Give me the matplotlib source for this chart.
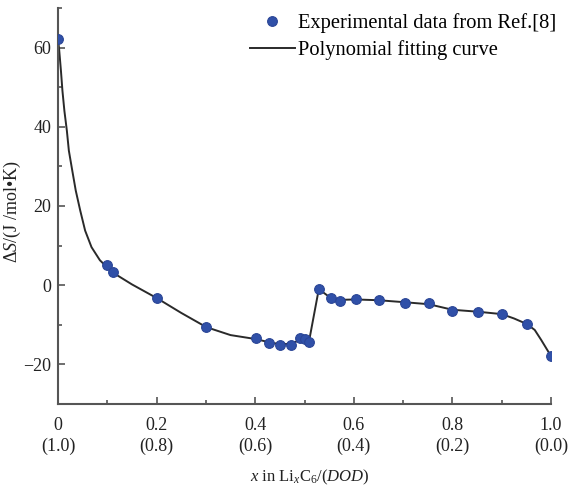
import matplotlib
matplotlib.use("Agg")
import matplotlib.pyplot as plt
from matplotlib.ticker import MultipleLocator

plt.rcParams['font.family'] = ['Liberation Serif', 'DejaVu Serif']
plt.rcParams['mathtext.fontset'] = 'custom'
plt.rcParams['mathtext.rm'] = 'Liberation Serif'
plt.rcParams['mathtext.it'] = 'Liberation Serif:italic'
plt.rcParams['mathtext.bf'] = 'Liberation Serif:bold'

# Experimental data
exp_x = [0.0, 0.099, 0.111, 0.201, 0.301, 0.401, 0.428, 0.45, 0.472, 0.490, 0.500, 0.509,
         0.529, 0.553, 0.573, 0.604, 0.651, 0.703, 0.752, 0.80, 0.852, 0.90, 0.951, 1.0]
exp_y = [62.1, 5.0, 3.3, -3.3, -10.6, -13.4, -14.5, -15.1, -15.1, -13.4, -13.7, -14.3,
         -1.0, -3.2, -3.9, -3.5, -3.8, -4.4, -4.4, -6.4, -6.7, -7.3, -9.8, -17.9]

# Polynomial fitting curve (vertices)
fit_x = [0.0, 0.002, 0.006, 0.009, 0.013, 0.018, 0.022, 0.029, 0.036, 0.045, 0.055, 0.068,
         0.085, 0.099, 0.111, 0.15, 0.201, 0.25, 0.301, 0.35, 0.401, 0.428, 0.45, 0.472,
         0.490, 0.500, 0.509, 0.529, 0.553, 0.573, 0.604, 0.651, 0.703, 0.752, 0.80, 0.852,
         0.90, 0.925, 0.951, 0.967, 0.98, 1.0]
fit_y = [62.1, 60.0, 54.1, 49.1, 44.0, 39.0, 34.0, 28.9, 23.9, 18.9, 13.8, 9.6,
         6.3, 4.6, 3.2, 0.2, -3.3, -7.0, -10.6, -12.6, -13.6, -14.4, -14.9, -14.8,
         -13.9, -13.8, -14.3, -1.0, -3.2, -3.7, -3.6, -3.8, -4.3, -4.8, -6.2, -6.7,
         -7.3, -8.4, -9.8, -11.3, -13.8, -17.9]

x_ticks = [0.0, 0.2, 0.4, 0.6, 0.8, 1.0]
x_ticklabels = ['0\n(1.0)', '0.2\n(0.8)', '0.4\n(0.6)', '0.6\n(0.4)', '0.8\n(0.2)', '1.0\n(0.0)']
y_ticks = [-20, 0, 20, 40, 60]
y_ticklabels = ['\u221220', '0', '20', '40', '60']

fig = plt.figure(figsize=(5.7, 4.92), dpi=100)
ax = fig.add_axes([58/570, 1-404/492, (551-58)/570, (404-8)/492])

ax.plot(fit_x, fit_y, color='#2a2a2a', lw=1.4, zorder=2, label='Polynomial fitting curve',
        solid_joinstyle='round')
ax.plot(exp_x, exp_y, 'o', color='#3050a8', ms=7, mec='#2a4596', mew=0.8, zorder=3,
        label='Experimental data from Ref.[8]')

ax.set_xlim(0, 1.0)
ax.set_ylim(-30, 70)
ax.set_xticks(x_ticks)
ax.set_xticklabels(x_ticklabels, linespacing=1.3)
ax.set_yticks(y_ticks)
ax.set_yticklabels(y_ticklabels)
ax.xaxis.set_minor_locator(MultipleLocator(0.1))
ax.yaxis.set_minor_locator(MultipleLocator(10))
for s in ['top', 'right']:
    ax.spines[s].set_visible(False)
for s in ['left', 'bottom']:
    ax.spines[s].set_color('#555555')
    ax.spines[s].set_linewidth(1.5)
ax.tick_params(which='both', direction='in', color='#555555', width=1.2, labelsize=13,
               labelcolor='#222222')
ax.tick_params(which='major', length=5)
ax.tick_params(which='minor', length=3)
ax.tick_params(axis='x', pad=9)
ax.tick_params(axis='y', pad=5)

ax.set_ylabel('$\\Delta S$/(J /mol\u2022K)', fontsize=13, color='#222222')
ax.yaxis.set_label_coords(-0.071, 0.485)
ax.set_xlabel(r'$x$ in Li$_x$C$_6$/($DOD$)', fontsize=12, color='#222222')
ax.xaxis.set_label_coords(0.511, -0.162)

handles, labels = ax.get_legend_handles_labels()
leg = ax.legend(handles[::-1], labels[::-1], loc='upper right', frameon=False, fontsize=14.8,
                handlelength=2.2, handletextpad=0.15, borderaxespad=0.0,
                bbox_to_anchor=(1.027, 1.007), labelspacing=0.35)

fig.savefig('out.png', dpi=100)
